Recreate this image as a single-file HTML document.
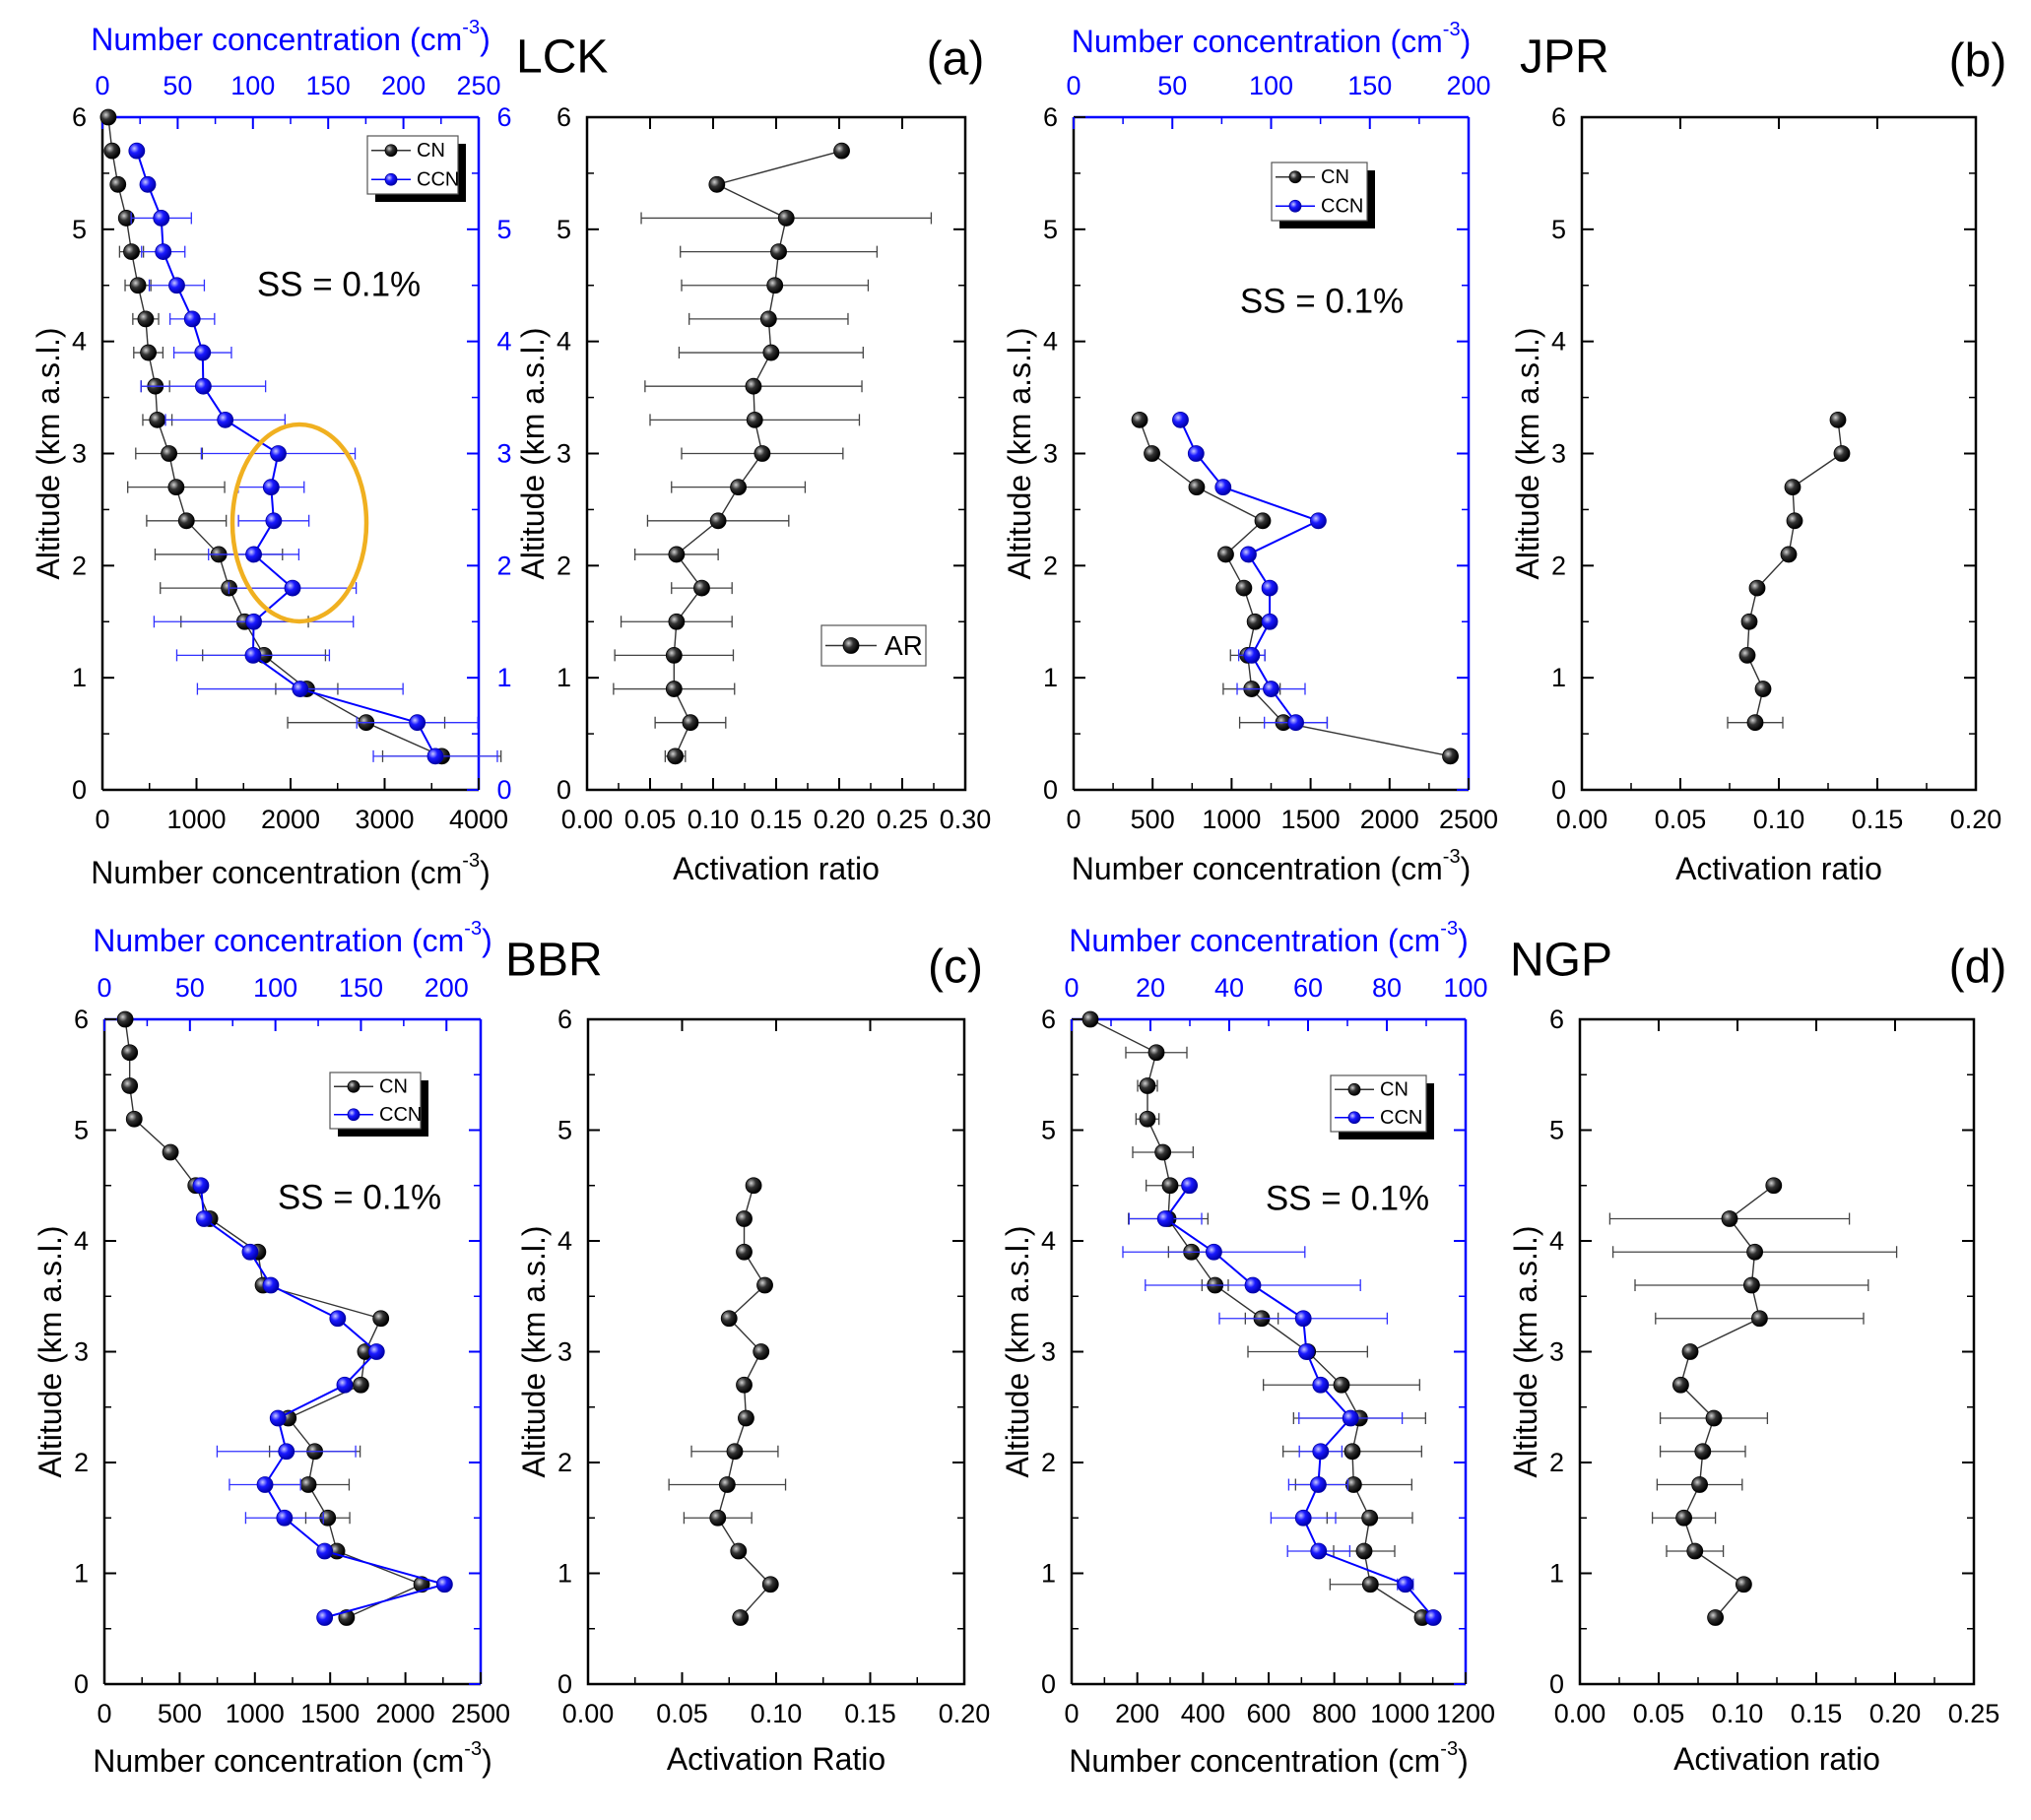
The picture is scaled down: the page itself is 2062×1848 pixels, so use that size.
<!DOCTYPE html>
<html><head><meta charset="utf-8"><style>
html,body{margin:0;padding:0;background:#fff;}
svg{display:block;font-family:"Liberation Sans",sans-serif;}
</style></head><body>
<svg id="fig" width="2062" height="1848" viewBox="0 0 2062 1848" xmlns="http://www.w3.org/2000/svg">
<defs>
<radialGradient id="gk" cx="35%" cy="35%" r="65%"><stop offset="0" stop-color="#d0d0d0"/><stop offset="0.45" stop-color="#333"/><stop offset="1" stop-color="#000"/></radialGradient>
<radialGradient id="gb" cx="35%" cy="35%" r="65%"><stop offset="0" stop-color="#c8c8ff"/><stop offset="0.45" stop-color="#1a1aff"/><stop offset="1" stop-color="#0000b0"/></radialGradient>
</defs>
</svg>
<script>
// ---------- data ----------
const altA_cn = [6.0,5.7,5.4,5.1,4.8,4.5,4.2,3.9,3.6,3.3,3.0,2.7,2.4,2.1,1.8,1.5,1.2,0.9,0.6,0.3];
const cnA = [62,103,165,254,309,378,460,488,563,584,708,784,893,1237,1347,1512,1718,2172,2804,3608];
const cnA_err = [0,0,0,50,127,137,137,155,151,155,354,515,423,677,732,677,653,330,835,629];
const altA_ccn = [5.7,5.4,5.1,4.8,4.5,4.2,3.9,3.6,3.3,3.0,2.7,2.4,2.1,1.8,1.5,1.2,0.9,0.6,0.3];
const ccnA = [22.8,30.1,39.1,40.4,49.4,59.7,66.6,67.0,81.6,116.8,112.1,113.8,100.5,126.3,100.5,100.1,131.4,209.2,221.2];
const ccnA_err = [0,0,20,14.4,18.3,14.8,19.1,41.4,39.7,51.1,21.9,23.4,30,42.3,66.2,50.7,68.3,40.2,41.2];
const altA_ar = [5.7,5.4,5.1,4.8,4.5,4.2,3.9,3.6,3.3,3.0,2.7,2.4,2.1,1.8,1.5,1.2,0.9,0.6,0.3];
const arA = [0.202,0.103,0.158,0.152,0.149,0.144,0.146,0.132,0.133,0.139,0.120,0.104,0.071,0.091,0.071,0.069,0.069,0.082,0.070];
const arA_err = [0,0,0.115,0.078,0.074,0.063,0.073,0.086,0.083,0.064,0.053,0.056,0.033,0.024,0.044,0.047,0.048,0.028,0.008];

const altB_cn = [3.3,3.0,2.7,2.4,2.1,1.8,1.5,1.2,0.9,0.6,0.3];
const cnB = [418,496,779,1197,963,1078,1148,1102,1127,1328,2385];
const cnB_err = [0,0,0,0,0,0,0,109,180,277,0];
const altB_ccn = [3.3,3.0,2.7,2.4,2.1,1.8,1.5,1.2,0.9,0.6];
const ccnB = [54.1,62.0,75.7,123.9,88.5,99.3,99.3,90.2,100.0,112.5];
const ccnB_err = [0,0,0,0,0,0,0,6.6,17.2,15.9];
const altB_ar = [3.3,3.0,2.7,2.4,2.1,1.8,1.5,1.2,0.9,0.6];
const arB = [0.130,0.132,0.107,0.108,0.105,0.089,0.085,0.084,0.092,0.088];
const arB_err = [0,0,0,0,0,0,0,0,0,0.014];

const altC_cn = [6.0,5.7,5.4,5.1,4.8,4.5,4.2,3.9,3.6,3.3,3.0,2.7,2.4,2.1,1.8,1.5,1.2,0.9,0.6];
const cnC = [138,168,168,198,439,607,701,1020,1054,1837,1734,1704,1222,1398,1355,1484,1545,2108,1609];
const cnC_err = [0,0,0,0,0,0,0,0,0,0,0,0,0,301,271,146,0,0,0];
const altC_ccn = [4.5,4.2,3.9,3.6,3.3,3.0,2.7,2.4,2.1,1.8,1.5,1.2,0.9,0.6];
const ccnC = [56.4,58.3,85.2,97.3,136.4,159.1,140.5,101.5,106.4,93.9,105.3,128.8,198.9,128.8];
const ccnC_err = [0,0,0,0,0,0,0,0,40.5,20.8,22.7,0,0,0];
const altC_ar = [4.5,4.2,3.9,3.6,3.3,3.0,2.7,2.4,2.1,1.8,1.5,1.2,0.9,0.6];
const arC = [0.088,0.083,0.083,0.094,0.075,0.092,0.083,0.084,0.078,0.074,0.069,0.080,0.097,0.081];
const arC_err = [0,0,0,0,0,0,0,0,0.023,0.031,0.018,0,0,0];

const altD_cn = [6.0,5.7,5.4,5.1,4.8,4.5,4.2,3.9,3.6,3.3,3.0,2.7,2.4,2.1,1.8,1.5,1.2,0.9,0.6];
const cnD = [57,258,231,231,278,300,294,365,437,579,719,822,877,855,859,908,891,910,1068];
const cnD_err = [0,93,30,35,92,73,121,70,40,50,182,238,201,211,177,130,93,123,0];
const altD_ccn = [4.5,4.2,3.9,3.6,3.3,3.0,2.7,2.4,2.1,1.8,1.5,1.2,0.9,0.6];
const ccnD = [29.9,23.8,36.1,46.0,58.8,59.6,63.2,70.8,63.2,62.6,58.8,62.7,84.7,91.8];
const ccnD_err = [1.3,9.2,23.1,27.3,21.3,0,0,13.1,5.4,7.5,8.2,7.9,2,0];
const altD_ar = [4.5,4.2,3.9,3.6,3.3,3.0,2.7,2.4,2.1,1.8,1.5,1.2,0.9,0.6];
const arD = [0.123,0.095,0.111,0.109,0.114,0.070,0.064,0.085,0.078,0.076,0.066,0.073,0.104,0.086];
const arD_err = [0,0.076,0.090,0.074,0.066,0,0,0.034,0.027,0.027,0.020,0.018,0,0];

const ticksA_bot = [0,1000,2000,3000,4000];
const ticksA_top = [0,50,100,150,200,250];
const ticksB_bot = [0,500,1000,1500,2000,2500];
const ticksB_top = [0,50,100,150,200];
const ticksC_bot = [0,500,1000,1500,2000,2500];
const ticksC_top = [0,50,100,150,200];
const ticksD_bot = [0,200,400,600,800,1000,1200];
const ticksD_top = [0,20,40,60,80,100];
const ticksAR_a = [0,0.05,0.10,0.15,0.20,0.25,0.30];
const ticksAR_b = [0,0.05,0.10,0.15,0.20];
const ticksAR_d = [0,0.05,0.10,0.15,0.20,0.25];
const altTicks = [0,1,2,3,4,5,6];

// ---------- drawing ----------
const NS = "http://www.w3.org/2000/svg";
const svg = document.getElementById('fig');
function el(tag, attrs, parent){
  const e = document.createElementNS(NS, tag);
  for (const k in attrs) e.setAttribute(k, attrs[k]);
  (parent || svg).appendChild(e);
  return e;
}
function txt(s, x, y, size, color, anchor, parent, extra){
  const t = el('text', Object.assign({x:x, y:y, 'font-size':size, fill:color, 'text-anchor':anchor||'middle', 'dominant-baseline':'central'}, extra||{}), parent);
  t.textContent = s;
  return t;
}
function fmt(v, dec){ return dec ? v.toFixed(dec) : String(v); }
function sphere(x, y, blue, parent){
  const c = el('circle', {cx:x, cy:y, r:8, fill: blue ? 'url(#gb)' : 'url(#gk)', stroke: blue ? '#0000a0' : '#000', 'stroke-width':0.8}, parent);
  return c;
}

function concTitle(x, y, color, parent){
  const t = el('text', {x:x, y:y, 'font-size':32, fill:color, 'text-anchor':'middle', 'dominant-baseline':'central'}, parent);
  t.appendChild(document.createTextNode('Number concentration (cm'));
  const s = el('tspan', {'font-size':20, dy:-12}, t); s.textContent='-3';
  const e = el('tspan', {dy:12}, t); e.textContent=')';
  return t;
}

function yTitle(x, y0, y1, parent){
  const cy = (y0 + y1) / 2;
  const t = txt('Altitude (km a.s.l.)', x, cy, 32, '#000', 'middle', parent, {transform:'rotate(-90 '+x+' '+cy+')'});
  
  
}

function altAxis(g, L, R, T, B, blueRight){
  const ys = a => T + (6 - a) / 6 * (B - T);
  altTicks.forEach(a => {
    const y = ys(a);
    el('line', {x1:L, x2:L+12, y1:y, y2:y, stroke:'#000', 'stroke-width':2}, g);
    el('line', {x1:R, x2:R-12, y1:y, y2:y, stroke: blueRight ? '#0000ff' : '#000', 'stroke-width':2}, g);
    const t = txt(String(a), L - 16, y, 27, '#000', 'end', g);
    
    
    if (a < 6) {
      const ym = ys(a + 0.5);
      el('line', {x1:L, x2:L+7, y1:ym, y2:ym, stroke:'#000', 'stroke-width':1.5}, g);
      el('line', {x1:R, x2:R-7, y1:ym, y2:ym, stroke: blueRight ? '#0000ff' : '#000', 'stroke-width':1.5}, g);
    }
  });
  return ys;
}

function xTicks(g, ticks, xmax, L, R, yLine, dir, color, labelY, dec, labelColor){
  const xs = v => L + v / xmax * (R - L);
  const step = ticks[1] - ticks[0];
  ticks.forEach((v, i) => {
    const x = xs(v);
    el('line', {x1:x, x2:x, y1:yLine, y2:yLine + dir*12, stroke:color, 'stroke-width':2}, g);
    const t = txt(fmt(v, dec), x, labelY, 27, labelColor, 'middle', g);
    
    
    const mv = v + step / 2;
    if (mv < xmax) {
      const xm = xs(mv);
      el('line', {x1:xm, x2:xm, y1:yLine, y2:yLine + dir*7, stroke:color, 'stroke-width':1.5}, g);
    }
  });
  return xs;
}

function series(g, xs, ys, alts, vals, errs, blue, name){
  const col = blue ? '#0000ff' : '#333';
  const sg = el('g', {}, g);
  
  
  alts.forEach((a, i) => {
    const e = errs[i];
    if (e > 0) {
      const y = ys(a), x0 = xs(vals[i] - e), x1 = xs(vals[i] + e);
      const eb = el('path', {d:'M'+x0+' '+y+'H'+x1+'M'+x0+' '+(y-6)+'V'+(y+6)+'M'+x1+' '+(y-6)+'V'+(y+6), stroke: blue ? '#3030ff' : '#444', 'stroke-width':1.3, fill:'none'}, sg);
      
      
    }
  });
  const pts = alts.map((a, i) => xs(vals[i]) + ',' + ys(a)).join(' ');
  const pl = el('polyline', {points:pts, fill:'none', stroke:col, 'stroke-width': blue ? 2 : 1.4}, sg);
  
  
  alts.forEach((a, i) => {
    const c = sphere(xs(vals[i]), ys(a), blue, sg);
    
    
  });
}

function legend(g, x, y, w, h, items){
  const lg = el('g', {}, g);
  
  
  el('rect', {x:x+8, y:y+8, width:w, height:h, fill:'#000'}, lg);
  el('rect', {x:x, y:y, width:w, height:h, fill:'#fff', stroke:'#555', 'stroke-width':1.2}, lg);
  items.forEach((it, i) => {
    const yy = y + h / items.length * (i + 0.5);
    el('line', {x1:x+4, x2:x+44, y1:yy, y2:yy, stroke: it.blue ? '#0000ff' : '#333', 'stroke-width':1.5}, lg);
    sphere(x+24, yy, it.blue, lg).setAttribute('r', 6);
    const t = txt(it.label, x+50, yy, 20, '#000', 'start', lg);
    
    
  });
}

function concPanel(id, box, botTicks, botMax, topTicks, topMax, data, ss, leg, titles){
  const g = el('g', {});
  
  
  const {L, R, T, B} = box;
  el('rect', {x:L, y:T, width:R-L, height:B-T, fill:'#fff'}, g);
  el('line', {x1:L, x2:R, y1:B, y2:B, stroke:'#000', 'stroke-width':2.5}, g);
  el('line', {x1:L, x2:L, y1:T, y2:B, stroke:'#000', 'stroke-width':2.5}, g);
  el('line', {x1:L, x2:R, y1:T, y2:T, stroke:'#0000ff', 'stroke-width':2.5}, g);
  el('line', {x1:R, x2:R, y1:T, y2:B, stroke:'#0000ff', 'stroke-width':2.5}, g);
  const ys = altAxis(g, L, R, T, B, true);
  if (id === 'a') {
    altTicks.forEach(a => {
      const t = txt(String(a), R + 26, ys(a), 27, '#0000ff', 'middle', g);
      
      
    });
  }
  const xb = xTicks(g, botTicks, botMax, L, R, B, -1, '#000', B + 30, 0, '#000');
  const xt = xTicks(g, topTicks, topMax, L, R, T, 1, '#0000ff', T - 32, 0, '#0000ff');
  series(g, xb, ys, data.cnAlt, data.cn, data.cnErr, false, 'cn-series');
  series(g, xt, ys, data.ccnAlt, data.ccn, data.ccnErr, true, 'ccn-series');
  legend(g, leg[0], leg[1], leg[2], leg[3], [{label:'CN', blue:false}, {label:'CCN', blue:true}]);
  const s = txt('SS = 0.1%', ss[0], ss[1], 35, '#000', 'middle', g);
  
  
  const t1 = concTitle((L+R)/2, titles[0], '#0000ff', g);
  
  
  const t2 = concTitle((L+R)/2, titles[1], '#000', g);
  
  
  yTitle(L - 55, T, B, g);
  return g;
}

function arPanel(id, box, ticks, xmax, alts, vals, errs, titleY, label, legAR){
  const g = el('g', {});
  
  
  const {L, R, T, B} = box;
  el('rect', {x:L, y:T, width:R-L, height:B-T, fill:'#fff', stroke:'#000', 'stroke-width':2.5}, g);
  const ys = altAxis(g, L, R, T, B, false);
  const xs = xTicks(g, ticks, xmax, L, R, B, -1, '#000', B + 30, 2, '#000');
  ticks.forEach(v => { const x = xs(v); el('line', {x1:x, x2:x, y1:T, y2:T+12, stroke:'#000', 'stroke-width':2}, g); });
  series(g, xs, ys, alts, vals, errs, false, 'ar-series');
  if (legAR) legendAR(g, legAR);
  const t = txt(label, (L+R)/2, titleY, 32, '#000', 'middle', g);
  
  
  yTitle(L - 55, T, B, g);
  return g;
}
function legendAR(g, p){
  const lg = el('g', {}, g);
  
  
  el('rect', {x:p[0], y:p[1], width:p[2], height:p[3], fill:'#fff', stroke:'#555', 'stroke-width':1.2}, lg);
  const yy = p[1] + p[3]/2;
  el('line', {x1:p[0]+4, x2:p[0]+56, y1:yy, y2:yy, stroke:'#333', 'stroke-width':1.5}, lg);
  sphere(p[0]+30, yy, false, lg);
  const t = txt('AR', p[0]+64, yy, 28, '#000', 'start', lg);
  
  
}

function heading(s, x, y, anchor, name){
  const t = txt(s, x, y, 48, '#000', anchor, svg);
  
  
}

// Panel a
concPanel('a', {L:104, R:486, T:119, B:802}, ticksA_bot, 4000, ticksA_top, 250,
  {cnAlt:altA_cn, cn:cnA, cnErr:cnA_err, ccnAlt:altA_ccn, ccn:ccnA, ccnErr:ccnA_err},
  [344, 289], [373, 138, 92, 59], [40, 886]);
const ell = el('ellipse', {cx:304, cy:531, rx:68, ry:100, fill:'none', stroke:'#f0b020', 'stroke-width':4.5});


arPanel('a', {L:596, R:980, T:119, B:802}, ticksAR_a, 0.30, altA_ar, arA, arA_err, 882, 'Activation ratio', [834, 635, 106, 41]);
heading('LCK', 524, 58, 'start', 'site-label-lck');
heading('(a)', 970, 60, 'middle', 'panel-label-a');

// Panel b
concPanel('b', {L:1090, R:1491, T:119, B:802}, ticksB_bot, 2500, ticksB_top, 200,
  {cnAlt:altB_cn, cn:cnB, cnErr:cnB_err, ccnAlt:altB_ccn, ccn:ccnB, ccnErr:ccnB_err},
  [1342, 306], [1291, 165, 97, 59], [42, 882]);
arPanel('b', {L:1606, R:2006, T:119, B:802}, ticksAR_b, 0.20, altB_ar, arB, arB_err, 882, 'Activation ratio', null);
heading('JPR', 1543, 58, 'start', 'site-label-jpr');
heading('(b)', 2008, 62, 'middle', 'panel-label-b');

// Panel c
concPanel('c', {L:106, R:488, T:1035, B:1710}, ticksC_bot, 2500, ticksC_top, 220,
  {cnAlt:altC_cn, cn:cnC, cnErr:cnC_err, ccnAlt:altC_ccn, ccn:ccnC, ccnErr:ccnC_err},
  [365, 1216], [335, 1089, 92, 57], [955, 1788]);
arPanel('c', {L:597, R:979, T:1035, B:1710}, ticksAR_b, 0.20, altC_ar, arC, arC_err, 1786, 'Activation Ratio', null);
heading('BBR', 513, 975, 'start', 'site-label-bbr');
heading('(c)', 970, 982, 'middle', 'panel-label-c');

// Panel d
concPanel('d', {L:1088, R:1488, T:1035, B:1710}, ticksD_bot, 1200, ticksD_top, 100,
  {cnAlt:altD_cn, cn:cnD, cnErr:cnD_err, ccnAlt:altD_ccn, ccn:ccnD, ccnErr:ccnD_err},
  [1368, 1217], [1351, 1092, 97, 57], [955, 1788]);
arPanel('d', {L:1604, R:2004, T:1035, B:1710}, ticksAR_d, 0.25, altD_ar, arD, arD_err, 1786, 'Activation ratio', null);
heading('NGP', 1533, 975, 'start', 'site-label-ngp');
heading('(d)', 2008, 982, 'middle', 'panel-label-d');
</script>
</body></html>
